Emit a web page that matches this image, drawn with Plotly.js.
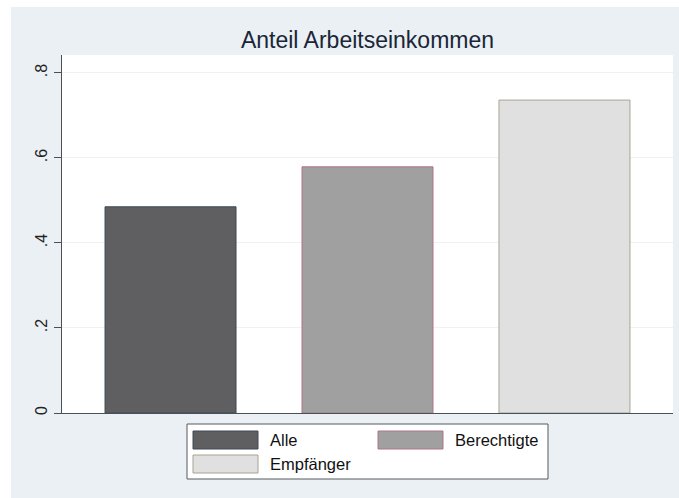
<!DOCTYPE html>
<html>
<head>
<meta charset="utf-8">
<script src="https://cdn.plot.ly/plotly-3.0.1.min.js"></script>
<style>
html,body{margin:0;padding:0;background:#ffffff;width:679px;height:498px;overflow:hidden;}
#chart{position:absolute;left:11px;top:7px;width:668px;height:491px;}
</style>
</head>
<body>
<div id="chart"></div>
<script>
const categories = ["Alle", "Berechtigte", "Empfänger"];
const values = [0.485, 0.579, 0.736];
const tickValues = [0, 0.2, 0.4, 0.6, 0.8];
const tickLabels = ["0", ".2", ".4", ".6", ".8"];

const fills = ["#5f5f61", "#a0a0a0", "#e0e0e0"];
const borders = ["#3e4a56", "#b07484", "#a8a490"];

const W = 668, H = 491;
const M = {l: 51, r: 6, t: 48, b: 85};
const PW = W - M.l - M.r, PH = H - M.t - M.b;
const px = x => (x - M.l) / PW;
const py = y => (H - M.b - y) / PH;

const traces = categories.map((c, i) => ({
  type: "bar",
  x: [i],
  y: [values[i]],
  name: c,
  width: 0.665,
  marker: {color: fills[i], line: {color: borders[i], width: 1}},
  showlegend: false,
  hoverinfo: "name+y"
}));

// custom legend (Stata style)
const legendSlots = [
  {sx: 182, sy: 424, tx: 257},
  {sx: 367, sy: 424, tx: 442},
  {sx: 182, sy: 448, tx: 257}
];
const shapes = [{
  type: "rect", xref: "paper", yref: "paper",
  x0: px(176), x1: px(537), y0: py(472), y1: py(417),
  fillcolor: "#ffffff", line: {color: "#555a60", width: 1}
}];
const annotations = [];
categories.forEach((c, i) => {
  const s = legendSlots[i];
  shapes.push({
    type: "rect", xref: "paper", yref: "paper",
    x0: px(s.sx), x1: px(s.sx + 65), y0: py(s.sy + 18), y1: py(s.sy),
    fillcolor: fills[i], line: {color: borders[i], width: 1}
  });
  annotations.push({
    xref: "paper", yref: "paper", x: px(s.tx), y: py(s.sy + 9),
    xanchor: "left", yanchor: "middle", showarrow: false,
    text: c, font: {family: "Liberation Sans, Arial, sans-serif", size: 16.5, color: "#111111"}
  });
});

const layout = {
  width: W, height: H,
  margin: M,
  paper_bgcolor: "#eaf0f3",
  plot_bgcolor: "#ffffff",
  barmode: "overlay",
  title: {
    text: "Anteil Arbeitseinkommen",
    x: 0.5, xref: "paper", xanchor: "center",
    y: 1 - 33 / H, yref: "container", yanchor: "middle",
    font: {family: "Liberation Sans, Arial, sans-serif", size: 23, color: "#1a2638"}
  },
  xaxis: {
    range: [-0.551, 2.551],
    showticklabels: false, ticks: "", showgrid: false, zeroline: false,
    showline: true, linecolor: "#4a5058", linewidth: 1.2, fixedrange: true
  },
  yaxis: {
    range: [0, 0.842],
    tickvals: tickValues, ticktext: tickLabels,
    tickangle: -90,
    ticks: "outside", ticklen: 7, tickcolor: "#4a5058", tickwidth: 1,
    showline: true, linecolor: "#4a5058", linewidth: 1.2,
    showgrid: true, gridcolor: "#eef2f4", gridwidth: 1,
    zeroline: false,
    tickfont: {family: "Liberation Sans, Arial, sans-serif", size: 16, color: "#222222"},
    fixedrange: true
  },
  shapes: shapes,
  annotations: annotations,
  showlegend: false
};

Plotly.newPlot("chart", traces, layout, {displayModeBar: false, staticPlot: true});
</script>
</body>
</html>
